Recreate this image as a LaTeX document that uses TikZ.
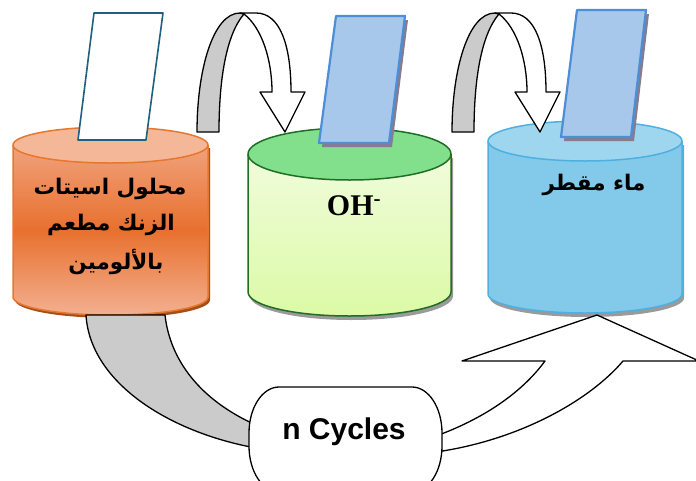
\documentclass[tikz,border=0pt]{standalone}
\usepackage{fontspec}
\setmainfont{Liberation Serif}
\newfontfamily\labelsans{Liberation Sans}
\newfontfamily\arabicfont[Script=Arabic]{DejaVu Sans}
\TeXXeTstate=1

\definecolor{orangeTop}{HTML}{F4B899}
\definecolor{orangeLight}{HTML}{F1A27C}
\definecolor{orangeMid}{HTML}{E8702E}
\definecolor{orangeEdge}{HTML}{E6782E}
\definecolor{orangeShadow}{HTML}{A54E17}
\definecolor{greenTop}{HTML}{82DF8C}
\definecolor{greenBodyTop}{HTML}{F0FCDC}
\definecolor{greenBodyBot}{HTML}{DCFAA6}
\definecolor{greenEdge}{HTML}{1F6E25}
\definecolor{blueTop}{HTML}{9ED6EF}
\definecolor{blueBody}{HTML}{82C9EA}
\definecolor{blueEdge}{HTML}{4EB0E2}
\definecolor{tankShadow}{HTML}{9A9A9A}
\definecolor{plateFill}{HTML}{A7C8EB}
\definecolor{plateEdge}{HTML}{4C8FD6}
\definecolor{plateShadow}{HTML}{857C90}
\definecolor{bareEdge}{HTML}{1F5F80}
\definecolor{bandGray}{HTML}{CBCBCB}

\begin{document}
\begin{tikzpicture}[x=1pt,y=-1pt,line join=round,
  outline/.style={draw=black,line width=1.3pt},
  backband/.style={outline,fill=bandGray},
  frontband/.style={outline,fill=white},
  bluesheet/.style={fill=plateFill,draw=plateEdge,line width=2.2pt},
  sheetshadow/.style={fill=plateShadow},
  arlabel/.style={font=\arabicfont\bfseries\fontsize{21.5}{26}\selectfont,inner sep=0pt}]
\useasboundingbox (0,0) rectangle (696,480);
\clip (0,0) rectangle (696,480);

% ---------- orange tank: zinc acetate solution ----------
\fill[orangeShadow,shift={(2,3)}] (13,145) -- (13,297)
  arc[start angle=180,end angle=0,x radius=97.5,y radius=18] -- (208,145) -- cycle;
\shade[top color=orangeLight,bottom color=orangeLight!85!white,middle color=orangeMid]
  (13,145) -- (13,297) arc[start angle=180,end angle=0,x radius=97.5,y radius=18] -- (208,145) -- cycle;
\draw[orangeEdge,line width=1.5pt]
  (13,145) -- (13,297) arc[start angle=180,end angle=0,x radius=97.5,y radius=18] -- (208,145);
\filldraw[fill=orangeTop,draw=orangeEdge,line width=1.5pt] (110.5,145) ellipse[x radius=97.5,y radius=18];

% ---------- green tank: OH- ----------
\fill[tankShadow,shift={(2,4)}] (248,154) -- (248,292)
  arc[start angle=180,end angle=0,x radius=101.5,y radius=24] -- (451,154) -- cycle;
\shade[top color=greenBodyTop,bottom color=greenBodyBot]
  (248,154) -- (248,292) arc[start angle=180,end angle=0,x radius=101.5,y radius=24] -- (451,154) -- cycle;
\draw[greenEdge,line width=1.5pt]
  (248,154) -- (248,292) arc[start angle=180,end angle=0,x radius=101.5,y radius=24] -- (451,154);
\filldraw[fill=greenTop,draw=greenEdge,line width=1.5pt] (349.5,154) ellipse[x radius=101.5,y radius=26];

% ---------- blue tank: distilled water ----------
\fill[tankShadow,shift={(2,4)}] (488,141) -- (488,294)
  arc[start angle=180,end angle=0,x radius=97,y radius=19] -- (682,141) -- cycle;
\fill[blueBody]
  (488,141) -- (488,294) arc[start angle=180,end angle=0,x radius=97,y radius=19] -- (682,141) -- cycle;
\draw[blueEdge,line width=1.5pt]
  (488,141) -- (488,294) arc[start angle=180,end angle=0,x radius=97,y radius=19] -- (682,141);
\filldraw[fill=blueTop,draw=blueEdge,line width=1.5pt] (585,141) ellipse[x radius=97,y radius=20];

% ---------- sample plates ----------
\filldraw[fill=white,draw=bareEdge,line width=1.6pt] (94,13) -- (163,13) -- (146,140) -- (78,140) -- cycle;

\fill[sheetshadow,shift={(3,4)}] (336,16) -- (405,16) -- (389,143) -- (319,143) -- cycle;
\filldraw[bluesheet] (336,16) -- (405,16) -- (389,143) -- (319,143) -- cycle;

\fill[sheetshadow,shift={(3,4)}] (577,10) -- (646,10) -- (631,137) -- (561,137) -- cycle;
\filldraw[bluesheet] (577,10) -- (646,10) -- (631,137) -- (561,137) -- cycle;

% ---------- tank labels ----------
\node[arlabel] (sol1) at (110,189) {\beginR محلول اسيتات\endR};
\node[arlabel] (sol2) at (111,225) {\beginR الزنك مطعم\endR};
\node[arlabel] (sol3) at (116,262) {\beginR بالألومين\endR};
\node[font=\bfseries\fontsize{30}{36}\selectfont,inner sep=0pt,anchor=base] (oh) at (354,215) {OH\textsuperscript{-}};
\node[arlabel] (water) at (594,185) {\beginR ماء مقطر\endR};

% ---------- curved transfer arrows between tanks ----------
\foreach \dx in {0,255}{
  \begin{scope}[shift={(\dx,0)}]
    \path[backband] (197,132) .. controls (197,70) and (213,13) .. (240,13) -- (244,14)
      .. controls (226,35) and (219,80) .. (219,132) -- cycle;
    \path[frontband] (244,14) .. controls (262,28) and (272,60) .. (272,92) -- (260,92)
      -- (285,132) -- (305,92) -- (291,92) .. controls (291,45) and (280,13) .. (256,13)
      -- (240,13) -- cycle;
  \end{scope}
}

% ---------- return path through the cycle counter ----------
\path[backband] (86,315) -- (165,315) .. controls (170,360) and (200,400) .. (256,425)
  -- (256,448) .. controls (168,432) and (90,382) .. (86,315) -- cycle;
\path[frontband] (436,452) .. controls (520,440) and (590,400) .. (623,361) -- (699,361)
  -- (597,315) -- (462,361) -- (545,361) .. controls (520,395) and (480,420) .. (436,436) -- cycle;

\path[outline,fill=white] (279,387) -- (412,387)
  arc[start angle=-90,end angle=0,x radius=30,y radius=46] -- (442,446)
  arc[start angle=0,end angle=90,x radius=30,y radius=46] -- (279,492)
  arc[start angle=90,end angle=180,x radius=30,y radius=46] -- (249,433)
  arc[start angle=180,end angle=270,x radius=30,y radius=46] -- cycle;
\node[font=\labelsans\bfseries\fontsize{30}{36}\selectfont,inner sep=0pt,anchor=base] (cycles) at (344,439) {n Cycles};
\end{tikzpicture}
\end{document}
